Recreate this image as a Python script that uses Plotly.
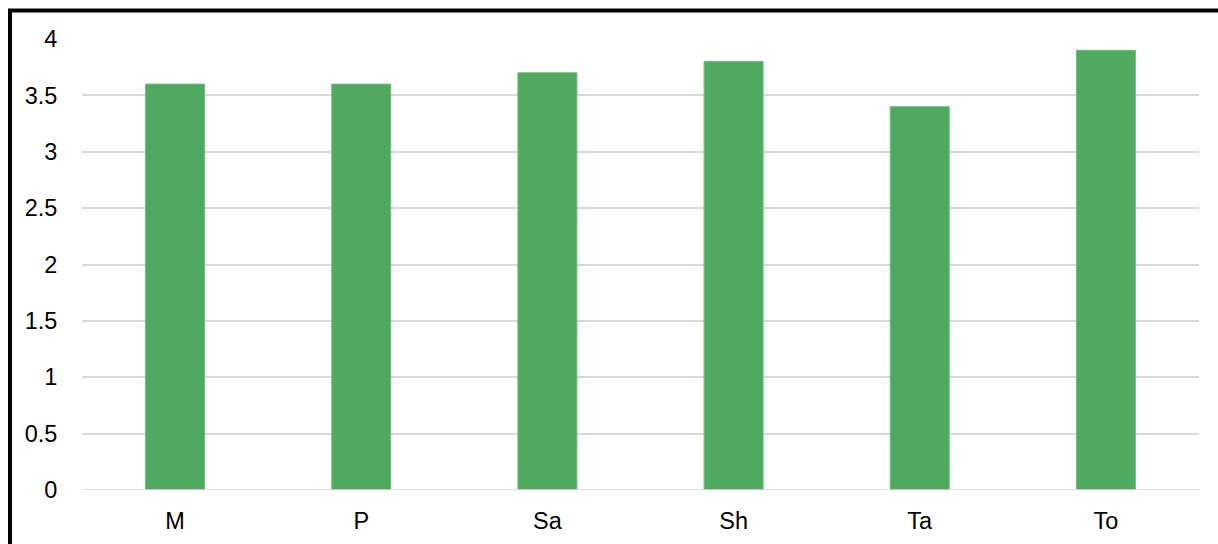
import plotly.graph_objects as go

categories = ["M", "P", "Sa", "Sh", "Ta", "To"]
values = [3.6, 3.6, 3.7, 3.8, 3.4, 3.9]

W, H = 1218, 544
ML, MR, MT, MB = 82, 19, 39, 54
PW, PH = W - ML - MR, H - MT - MB


def px_x(x):
    return (x - ML) / PW


def px_y(y):
    return (H - MB - y) / PH


fig = go.Figure(
    go.Bar(
        x=categories,
        y=values,
        marker=dict(color="#4fa95f", line=dict(color="#6cbf7a", width=1)),
    )
)

font = dict(family="Liberation Sans, Arial, sans-serif", size=23.5, color="#000000")

fig.update_layout(
    width=W,
    height=H,
    margin=dict(l=ML, r=MR, t=MT, b=MB, autoexpand=False),
    paper_bgcolor="white",
    plot_bgcolor="white",
    bargap=0.683,
    showlegend=False,
    font=font,
    xaxis=dict(
        automargin=False,
        showgrid=False,
        showline=False,
        zeroline=False,
        ticks="outside",
        ticklen=10,
        tickcolor="rgba(0,0,0,0)",
        tickfont=font,
    ),
    yaxis=dict(
        automargin=False,
        range=[0, 4],
        dtick=0.5,
        showgrid=True,
        gridcolor="#d9d9d9",
        gridwidth=1.5,
        zeroline=False,
        showline=False,
        ticks="outside",
        ticklen=19,
        tickcolor="rgba(0,0,0,0)",
        tickfont=font,
    ),
    shapes=[
        # frame around the chart area (left and top edges)
        dict(type="line", xref="paper", yref="paper",
             x0=px_x(10), x1=px_x(10), y0=px_y(9), y1=px_y(H + 10),
             line=dict(color="black", width=4)),
        dict(type="line", xref="paper", yref="paper",
             x0=px_x(8), x1=px_x(W + 10), y0=px_y(10.5), y1=px_y(10.5),
             line=dict(color="black", width=4)),
        # baseline
        dict(type="line", xref="paper", yref="y",
             x0=0, x1=1, y0=0, y1=0,
             line=dict(color="#d9d9d9", width=1.5)),
    ],
)

fig.write_html("out.html")
